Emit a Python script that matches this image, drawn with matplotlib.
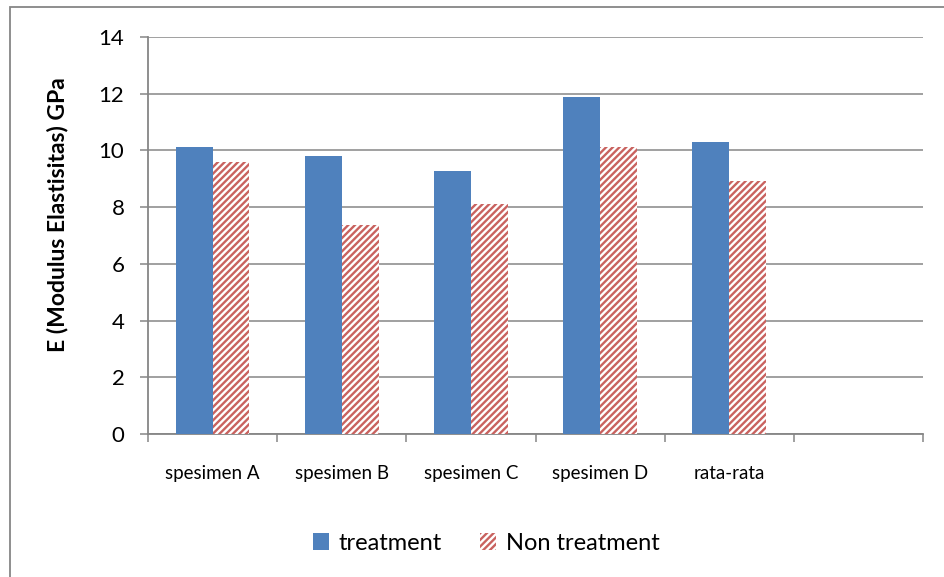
import numpy as np
import matplotlib.pyplot as plt
from matplotlib.patches import Rectangle

plt.rcParams['font.family'] = ['Lato', 'DejaVu Sans']
plt.rcParams['hatch.linewidth'] = 1.7

kategori = ['spesimen A', 'spesimen B', 'spesimen C', 'spesimen D', 'rata-rata']
treatment = [10.12, 9.80, 9.27, 11.88, 10.30]
non_treatment = [9.59, 7.37, 8.11, 10.12, 8.92]
n_slot = 6  # satu slot kosong di ujung kanan

W, H = 944, 577
fig = plt.figure(figsize=(W / 100, H / 100), dpi=100)
ax = fig.add_axes([148 / W, 1 - 434 / H, (923 - 148) / W, (434 - 37) / H])

x = np.arange(len(kategori))
w = 1 / 3.5
ax.bar(x - w / 2, treatment, w, color='#4F81BD', label='treatment', zorder=3)
ax.bar(x + w / 2, non_treatment, w, facecolor='white', edgecolor='#C9625F', linewidth=0,
       hatch='/////', label='Non treatment', zorder=3)

ax.set_xlim(-0.5, n_slot - 0.5)
ax.set_ylim(0, 14)
ax.set_yticks(np.arange(0, 15, 2))
ax.yaxis.grid(True, color='#868686', linewidth=1.1, zorder=0)

# garis batas kategori di sumbu x, label di tengah
ax.set_xticks(np.arange(n_slot + 1) - 0.5)
ax.set_xticklabels([])
ax.set_xticks(x, minor=True)
ax.set_xticklabels(kategori, minor=True, fontsize=13.5)
ax.tick_params(axis='x', which='major', direction='out', length=6, width=1.1, color='#868686')
ax.tick_params(axis='x', which='minor', length=0, pad=22)
ax.tick_params(axis='y', direction='out', length=6, width=1.1, color='#868686',
               labelsize=16, pad=11)

for s in ['top', 'right']:
    ax.spines[s].set_visible(False)
for s in ['left', 'bottom']:
    ax.spines[s].set_color('#868686')
    ax.spines[s].set_linewidth(1.3)

fig.text(58 / W, 1 - 215 / H, 'E (Modulus Elastisitas) GPa', rotation=90,
         ha='center', va='center', fontsize=16.5, fontweight='bold')

fig.legend(loc='center', bbox_to_anchor=(486 / W, 1 - 543 / H), ncol=2, frameon=False,
           fontsize=17, handlelength=0.7, handleheight=0.7, columnspacing=1.6,
           handletextpad=0.4)

# bingkai area grafik
fig.patches.append(Rectangle((10 / W, -0.1), 1.1, 1 - 7 / H + 0.1, transform=fig.transFigure,
                             fill=False, edgecolor='#868686', linewidth=1.3))

fig.savefig('out.png', dpi=100)
